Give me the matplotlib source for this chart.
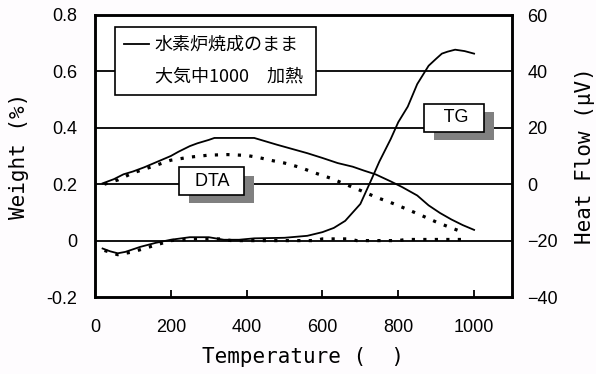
import numpy as np
import matplotlib
matplotlib.use("Agg")
import matplotlib.pyplot as plt
import matplotlib.patheffects as pe
from matplotlib.lines import Line2D

# --- data ---
# solid bell (水素炉焼成のまま, DTA)
t_dta1 = [20, 50, 75, 100, 130, 165, 200, 220, 250, 270, 300, 315, 420, 450, 480, 520,
          560, 600, 640, 680, 710, 740, 780, 810, 850, 880, 910, 940, 970, 1000]
w_dta1 = [0.203, 0.218, 0.235, 0.245, 0.26, 0.28, 0.30, 0.315, 0.335, 0.345, 0.357, 0.364,
          0.364, 0.352, 0.340, 0.325, 0.31, 0.293, 0.275, 0.262, 0.248, 0.235, 0.21, 0.19,
          0.16, 0.125, 0.098, 0.075, 0.055, 0.038]
# dotted bell (大気中1000 加熱, DTA)
t_dta2 = [25, 60, 100, 150, 200, 250, 300, 350, 400, 430, 470, 500, 540, 580, 620, 660,
          700, 745, 780, 820, 860, 900, 940, 960]
w_dta2 = [0.2, 0.215, 0.24, 0.262, 0.285, 0.296, 0.303, 0.305, 0.302, 0.295, 0.283, 0.275,
          0.26, 0.24, 0.222, 0.2, 0.178, 0.152, 0.135, 0.113, 0.09, 0.066, 0.045, 0.035]
# solid sigmoid (水素炉焼成のまま, TG)
t_tg1 = [20, 40, 60, 80, 120, 160, 200, 250, 300, 340, 380, 420, 500, 560, 600, 630, 660,
         700, 727, 750, 780, 800, 825, 850, 880, 900, 915, 930, 950, 975, 1000]
w_tg1 = [-0.028, -0.038, -0.045, -0.04, -0.022, -0.008, 0.003, 0.012, 0.012, 0.003, 0.003,
         0.008, 0.01, 0.017, 0.03, 0.045, 0.07, 0.13, 0.21, 0.28, 0.36, 0.42, 0.475, 0.555,
         0.62, 0.645, 0.663, 0.67, 0.677, 0.672, 0.663]
# dotted sigmoid (大気中1000 加熱, TG)
t_tg2 = [25, 60, 100, 150, 200, 260, 330, 360, 400, 500, 580, 600, 670, 690, 800, 820, 980]
w_tg2 = [-0.035, -0.05, -0.04, -0.02, 0.0, 0.006, 0.006, 0.0, 0.0, 0.0, 0.0, 0.006, 0.006,
         0.0, 0.0, 0.004, 0.004]

xticks = [0, 200, 400, 600, 800, 1000]
yticks_left = [-0.2, 0, 0.2, 0.4, 0.6, 0.8]
yticks_right = [-40, -20, 0, 20, 40, 60]
legend_labels = ["水素炉焼成のまま", "大気中1000\u3000加熱 "]

plt.rcParams['font.family'] = ['Liberation Sans', 'Noto Sans CJK JP', 'DejaVu Sans']
mono = 'DejaVu Sans Mono'

fig = plt.figure(figsize=(5.96, 3.74), dpi=100)
fig.patch.set_facecolor('#fefcfe')
ax = fig.add_axes([95/596, 1-297/374, 417/596, 282/374])
ax.set_facecolor('white')

for y in [0, 0.2, 0.4, 0.6]:
    ax.axhline(y, color='black', lw=1.3, zorder=1)

dots = (0, (1, 2.6))
ax.plot(t_dta1, w_dta1, color='black', lw=1.3, zorder=3)
ax.plot(t_dta2, w_dta2, color='black', lw=2.3, ls=dots, zorder=3)
ax.plot(t_tg1, w_tg1, color='black', lw=1.3, zorder=3)
ax.plot(t_tg2, w_tg2, color='black', lw=2.3, ls=dots, zorder=0.5)

ax.set_xlim(0, 1100)
ax.set_ylim(-0.2, 0.8)
ax.set_xticks(xticks)
ax.set_xticklabels([str(v) for v in xticks])
ax.set_yticks(yticks_left)
ax.set_yticklabels(['-0.2', '0', '0.2', '0.4', '0.6', '0.8'])
ax.tick_params(axis='x', direction='in', length=5, width=1.3, labelsize=13, pad=16)
ax.tick_params(axis='y', length=0, labelsize=13, pad=13)
for s in ax.spines.values():
    s.set_linewidth(1.8)

ax2 = ax.twinx()
ax2.set_ylim(-40, 60)
ax2.set_yticks(yticks_right)
ax2.tick_params(axis='y', length=0, labelsize=13, pad=11)
for s in ax2.spines.values():
    s.set_linewidth(1.8)

ax.set_xlabel("Temperature (  )", family=mono, fontsize=15, labelpad=8)
ax.set_ylabel("Weight (%)", family=mono, fontsize=15, labelpad=12)
ax2.set_ylabel("Heat Flow (μV)", family=mono, fontsize=15, labelpad=12, rotation=90)

# legend
handles = [Line2D([], [], color='black', lw=1.3),
           Line2D([], [], color='black', ls='None')]
leg = ax.legend(handles, legend_labels, loc='upper left',
                bbox_to_anchor=((115-95)/417, (297-27)/282), borderaxespad=0,
                prop={'family': ['Noto Sans CJK JP'], 'size': 13},
                frameon=True, fancybox=False, edgecolor='black', framealpha=1,
                handlelength=1.4, handletextpad=0.3, labelspacing=0.75,
                borderpad=0.5)
leg.get_frame().set_linewidth(1.2)
leg.set_zorder(5)

# labelled boxes with drop shadows
def tag(x, y, s):
    t = ax.text(x, y, s, ha='center', va='center', fontsize=13, zorder=4, color='black',
                bbox=dict(boxstyle='square,pad=0.3', fc='white', ec='black', lw=1.2))
    t.get_bbox_patch().set_path_effects([
        pe.SimplePatchShadow(offset=(7.2, -5.8), shadow_rgbFace='#808080', alpha=1.0),
        pe.Normal()])

tag(307, 0.21, "  DTA  ")
tag(947, 0.435, "   TG  ")

fig.savefig("out.png", dpi=100, facecolor=fig.get_facecolor())
